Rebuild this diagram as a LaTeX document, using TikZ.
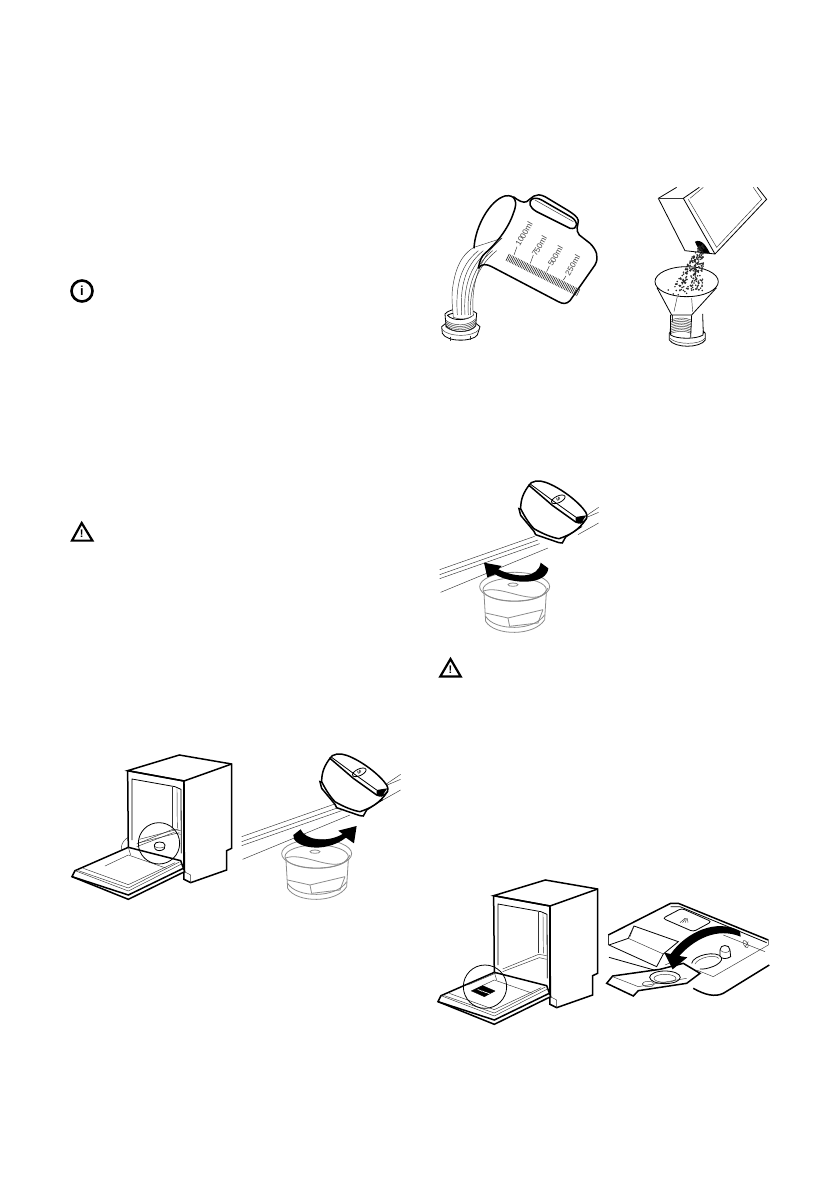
\documentclass[tikz,border=0pt]{standalone}
\usepackage{fontspec}
\setmainfont{Liberation Sans}
\newcommand{\drawcabinet}{%
  % body of the machine
  \draw [heavy, fill=white] (203,92) -- (358,45) -- (515,72) -- (515,325) -- (500,332) -- (500,390) -- (392,428) -- (372,418) -- (372,123) -- cycle;
  \draw [heavy] (203,92) -- (372,123) -- (515,72);
  \draw [heavy] (203,92) -- (205,330);
  \draw [heavy] (372,123) -- (373,395);
  \draw [fine] (392,428) -- (392,405) -- (373,395);
  % opening
  \draw [medium] (216,300) -- (216,117) -- (345,140) -- (363,148) -- (364,340);
  \draw [fine] (338,142) -- (338,265);
  \draw [fine] (351,145) -- (352,265);
  \draw [fine] (230,312) -- (338,268) -- (362,272);
  \draw [fine] (230,320) -- (340,278) -- (362,283);
  % door
  \draw [heavy, fill=white] (36,410) -- (45,392) -- (205,322) -- (362,362) -- (374,395) -- (205,478) -- cycle;
  \draw [heavy] (36,410) -- (205,465) -- (372,384);
  \draw [fine] (45,392) -- (205,453) -- (365,372);
  \draw [fine] (55,392) -- (205,444) -- (358,366);
  \draw [fine] (70,385) -- (205,434) -- (345,368);
  \draw [fine] (135,378) -- (205,345);
  \draw [fine] (205,345) -- (320,385);
  \draw [fine] (205,322) -- (212,345);
}
\newcommand{\drawstrainer}{%
  % rails behind the cap
  \draw [fine] (545,290) -- (830,190);
  \draw [fine] (545,305) -- (840,201);
  \draw [fine] (545,317) -- (845,212);
  \draw [fine] (548,358) -- (870,225);
  \draw [fine] (960,145) -- (1022,103);
  \draw [fine] (970,140) -- (1022,118);
  \draw [fine] (960,185) -- (1022,150);
  % lower part, pale
  \draw [pale] (770,341) ellipse [x radius=105, y radius=43];
  \draw [pale] (770,350) ellipse [x radius=95, y radius=35];
  \draw [pale] (765,335) ellipse [x radius=15, y radius=5];
  \draw [pale] (675,355) .. controls (720,335) and (800,385) .. (845,370) .. controls (855,367) and (865,355) .. (870,345);
  \draw [pale] (678,360) -- (683,445);
  \draw [pale] (865,360) -- (860,440);
  \draw [pale] (683,445) .. controls (710,490) and (830,490) .. (860,440);
  \draw [pale] (683,430) .. controls (710,475) and (830,475) .. (860,425);
  \draw [pale] (683,420) -- (750,435) -- (855,410);
  \draw [pale] (750,435) -- (755,460) -- (840,450) -- (855,410);
}
\newcommand{\drawcap}{%
  \draw [heavy, fill=white] (780,125) -- (785,145) -- (825,193) -- (830,203) -- (900,227) -- (910,228) -- (920,210) -- (965,180) -- cycle;
  \draw [heavy, fill=white] (810,55) .. controls (795,75) and (785,95) .. (785,125) .. controls (800,155) and (815,175) .. (825,185) .. controls (850,200) and (880,212) .. (900,215) .. controls (930,205) and (960,190) .. (982,155) -- cycle;
  \draw [heavy, fill=white] (810,55) .. controls (815,42) and (840,38) .. (860,46) .. controls (905,62) and (960,105) .. (980,135) .. controls (985,145) and (985,150) .. (982,155) .. controls (975,168) and (960,170) .. (950,165) -- (880,115) -- cycle;
  \draw [medium] (815,52) -- (880,100) -- (950,150);
  \fill (950,150) -- (982,145) -- (965,170) -- (950,165) -- cycle;
  \draw [medium, rotate around={25:(898,97)}] (898,97) ellipse [x radius=22, y radius=10];
  \node [font=\fontsize{5}{5}\selectfont\bfseries, rotate=-65, inner sep=0] (capmark) at (898,97) {S};
}
\begin{document}
\begin{tikzpicture}[
    x=1pt, y=-1pt,
    fine/.style={line width=0.45pt, draw=black!80},
    medium/.style={line width=0.8pt},
    heavy/.style={line width=1.5pt},
    pale/.style={line width=0.8pt, draw=black!45},
    sweep/.style={fill=black, draw=none},
    scalelabel/.style={font=\fontsize{8}{8}\selectfont, text=black!75, rotate=60, inner sep=0}
  ]
  \useasboundingbox [fill=white] (0,0) rectangle (840,1192);

  % Notice symbols
  \draw [line width=2.6pt] (82,291) circle (10.5);
  \node [font=\fontsize{13}{13}\selectfont\bfseries, inner sep=0] (infoletter) at (82,291) {i};

  \draw [line width=2.2pt, line join=miter] (81.7,523) -- (72,540.6) -- (92.4,540.6) -- cycle;
  \node [font=\fontsize{11}{11}\selectfont\bfseries, inner sep=0] (warnmark) at (81.7,534) {!};

  \draw [line width=2.2pt, line join=miter] (450.5,659) -- (440.3,676.5) -- (460.7,676.5) -- cycle;
  \node [font=\fontsize{11}{11}\selectfont\bfseries, inner sep=0] (warnmarktwo) at (450.5,670) {!};

  % Jug with water
  \begin{scope}[shift={(420,170)}, x=0.3333pt, y=-0.3333pt]
    % neck under the water
    \draw [medium, fill=white] (65,470) -- (80,458) -- (165,458) -- (180,470) -- (172,495) .. controls (160,515) and (80,518) .. (67,490) -- cycle;
    \draw [fine] (66,478) .. controls (85,502) and (160,502) .. (178,478);
    \draw [fine] (90,500) -- (90,512);
    \draw [fine] (152,498) -- (152,510);
    \draw [medium, fill=white] (75,432) -- (78,468) .. controls (95,490) and (150,490) .. (167,468) -- (170,430) .. controls (150,412) and (90,412) .. (75,432) -- cycle;
    \foreach \yb in {450,455,460,465,470} {
      \draw [fine] (76,\yb) .. controls (100,{\yb+20}) and (145,{\yb+20}) .. (168,{\yb-4});
    }
    \draw [medium] (82,436) .. controls (100,425) and (145,425) .. (160,434) .. controls (145,452) and (100,455) .. (82,436);
    \draw [fine, fill=white] (162,232) -- (245,205) -- (215,235) .. controls (160,300) and (155,380) .. (160,436) .. controls (145,448) and (118,450) .. (100,442) .. controls (98,410) and (92,380) .. (100,340) .. controls (112,270) and (140,245) .. (162,232) -- cycle;
    \foreach \xa/\xb in {125/112, 140/125, 155/135, 168/145, 180/152} {
      \draw [fine] (\xa+50,242) .. controls (\xa-10,290) and (\xb-5,360) .. (\xb,435);
    }
    % jug
    \draw [heavy] (175,295) .. controls (185,280) and (200,282) .. (215,290) -- (415,395) .. controls (430,403) and (440,402) .. (450,392) -- (525,285) .. controls (538,262) and (530,240) .. (510,220) -- (478,195) .. controls (465,180) and (475,165) .. (475,152) .. controls (473,140) and (460,132) .. (445,122) -- (375,80) .. controls (345,65) and (335,85) .. (320,95) .. controls (310,100) and (295,92) .. (280,80);
    \draw [heavy] (162,235) .. controls (165,170) and (210,90) .. (255,78) .. controls (285,72) and (295,95) .. (280,130) .. controls (265,175) and (230,220) .. (195,250) .. controls (185,258) and (178,275) .. (175,295);
    \draw [heavy] (335,88) .. controls (345,82) and (355,85) .. (365,90) -- (455,142) .. controls (475,155) and (475,180) .. (450,175) -- (350,125) .. controls (328,112) and (325,98) .. (335,88);
    \draw [fine] (345,90) -- (460,155);
    % scale
    \foreach \i in {0,...,46} {
      \draw [line width=0.6pt, black!85] ({258+\i*4.6},{272+\i*2.3}) -- ({268+\i*4.6},{252+\i*2.3});
    }
    \draw [fine] (282,255) -- (291,230);
    \draw [fine] (331,280) -- (340,255);
    \draw [fine] (380,305) -- (388,288);
    \draw [fine] (430,330) -- (438,318);
    \node [scalelabel] (labelfull) at (312,192) {1000ml};
    \node [scalelabel] (labelhigh) at (358,228) {750ml};
    \node [scalelabel] (labelmid) at (406,258) {500ml};
    \node [scalelabel] (labellow) at (458,286) {250ml};
  \end{scope}

  % Packet and funnel with salt
  \begin{scope}[shift={(420,170)}, x=0.3333pt, y=-0.3333pt]
    \draw [medium] (770,52) -- (715,85) -- (795,242) -- (885,252) -- (1040,88) -- (1012,52);
    \draw [medium] (838,52) -- (790,85) -- (885,252);
    \draw [fine] (715,85) -- (790,85);
    \draw [fine] (805,88) -- (890,232) -- (1025,88) -- (1000,52);
    \draw [fine] (810,85) -- (850,52);
    % body under the funnel
    \foreach \yb in {450,455,...,490} {
      \draw [fine] (753,\yb) .. controls (775,{\yb-8}) and (795,{\yb-8}) .. (813,\yb);
    }
    \draw [medium, fill=white] (748,490) -- (748,510) .. controls (765,535) and (840,535) .. (856,510) -- (856,490) -- (850,484) -- (849,495) .. controls (830,508) and (770,508) .. (752,495) -- (752,484) -- cycle;
    \draw [fine] (750,505) .. controls (770,525) and (840,525) .. (855,505);
    \draw [medium] (752,435) -- (751,490);
    \draw [medium] (848,432) -- (850,490);
    \draw [medium] (815,436) -- (812,502);
    \draw [fine] (756,430) -- (756,455);
    % funnel
    \draw [medium, fill=white] (712,355) -- (755,435) -- (815,435) -- (888,355) -- cycle;
    \draw [medium, fill=white] (800,335) ellipse [x radius=95, y radius=45];
    \draw [fine] (772,380) -- (762,425);
    \draw [fine] (815,385) -- (818,425);
    % salt
    \fill (825,215) .. controls (845,205) and (860,230) .. (870,250) -- (845,250) .. controls (840,240) and (830,230) .. (825,215);
    \pgfmathsetseed{41}
    \foreach \i in {1,...,240} {
      \pgfmathsetmacro{\saltpos}{rnd^0.8}
      \pgfmathsetmacro{\saltx}{845-45*\saltpos+(rnd-0.5)*(14+80*\saltpos)}
      \pgfmathsetmacro{\salty}{225+140*\saltpos}
      \fill [black!85] (\saltx,\salty) circle (2.6);
    }
    \foreach \sx/\sy in {765/350, 780/362, 760/372, 775/374, 800/370, 745/360} {
      \fill [black!85] (\sx,\sy) circle (2.5);
    }
  \end{scope}

  % Machine with strainer, left column
  \begin{scope}[shift={(60,740)}, x=0.3333pt, y=-0.3333pt]
    \draw [fine] (205,292) .. controls (180,305) and (180,335) .. (190,345);
    \drawcabinet
    \draw [medium] (297,310) circle (62);
    \draw [fine] (238,298) -- (356,267);
    \draw [fine] (238,308) -- (358,278);
    \draw [medium, fill=white] (283,315) .. controls (283,303) and (315,303) .. (315,315) -- (313,326) .. controls (305,334) and (290,334) .. (285,326) -- cycle;
    \draw [fine] (285,320) .. controls (292,325) and (307,325) .. (314,320);
    \drawstrainer
    \drawcap
    \path [sweep] (700,285) .. controls (695,320) and (790,345) .. (858,293) -- (882,310) -- (890,258) -- (835,272) -- (848,282) .. controls (800,310) and (735,300) .. (722,268) -- cycle;
  \end{scope}

  % Strainer again, right column
  \begin{scope}[shift={(258,473)}, x=0.3333pt, y=-0.3333pt]
    \drawstrainer
  \end{scope}
  \begin{scope}[shift={(259,467)}, x=0.3333pt, y=-0.3333pt]
    \drawcap
  \end{scope}
  \begin{scope}[shift={(430,470)}, x=0.3333pt, y=-0.3333pt]
    \path [sweep] (355,295) .. controls (350,345) and (250,345) .. (195,313) -- (172,322) -- (162,278) -- (215,288) -- (205,298) .. controls (260,325) and (325,325) .. (332,278) -- cycle;
  \end{scope}

  % Machine with dispenser
  \begin{scope}[shift={(426,865)}, x=0.3333pt, y=-0.3333pt]
    \drawcabinet
    \draw [medium] (177,365) circle (65);
    \draw [fine] (125,360) -- (215,322);
    \draw [fill=black] (137,378) -- (170,362) -- (207,378) -- (175,395) -- cycle;
    \foreach \dx in {0,12,24} {
      \draw [white, line width=0.6pt] (155+\dx,{373+\dx*0.35}) -- (168+\dx,{379+\dx*0.35});
    }
  \end{scope}

  \begin{scope}[shift={(430,870)}, x=0.3333pt, y=-0.3333pt]
    \draw [heavy] (535,195) -- (722,100) -- (745,100) -- (1015,210);
    \draw [medium] (722,110) -- (750,110) -- (1010,218);
    \draw [fine] (535,195) -- (535,225);
    \draw [medium] (537,262) -- (690,305);
    \draw [heavy] (1018,285) -- (880,370) .. controls (855,382) and (825,375) .. (790,355);
    \draw [fine] (1015,210) -- (1015,225) -- (850,320) -- (800,300);
    % recess
    \draw [medium] (537,225) -- (595,205) -- (612,168) -- (745,215) -- (700,252) -- (680,290) -- cycle;
    \draw [fine] (595,205) -- (700,252);
    \draw [fine] (612,168) -- (600,200);
    % window
    \draw [medium, rounded corners=3] (698,145) -- (755,115) -- (845,155) -- (790,185) -- cycle;
    \foreach \wx in {0,8,16,24} {
      \draw [fine] (750+\wx,158) -- (765+\wx*0.3,145);
    }
    % opening and knob
    \draw [medium] (785,280) .. controls (790,255) and (860,240) .. (875,262) .. controls (880,285) and (825,300) .. (810,297);
    \draw [fine] (795,282) .. controls (805,262) and (855,252) .. (866,265);
    \draw [medium, fill=white] (870,240) .. controls (870,222) and (900,222) .. (900,240) -- (902,260) .. controls (890,268) and (875,268) .. (870,258) -- cycle;
    \draw [fine] (870,240) .. controls (880,250) and (895,250) .. (900,240);
    \draw [fine, rotate around={30:(947,222)}] (947,222) ellipse [x radius=6, y radius=12];
    \draw [fine] (955,215) -- (945,232);
    \draw [fine] (880,195) -- (1005,245);
    % flap
    \draw [heavy, fill=white] (548,318) -- (690,298) -- (760,280) -- (810,310) -- (770,340) -- (625,362) -- (610,378) -- (530,340) -- cycle;
    \draw [fine] (548,320) -- (625,350) -- (770,325);
    \draw [medium] (705,322) ellipse [x radius=46, y radius=19];
    \draw [fine] (705,325) ellipse [x radius=33, y radius=12];
    \draw [fine] (655,342) ellipse [x radius=18, y radius=8];
    \draw [fine] (705,285) -- (760,262);
    % arrow
    \path [sweep] (930,183) .. controls (860,145) and (770,185) .. (722,252) -- (703,248) -- (728,298) -- (772,262) -- (748,258) .. controls (790,210) and (860,170) .. (932,200) -- cycle;
  \end{scope}
\end{tikzpicture}
\end{document}
